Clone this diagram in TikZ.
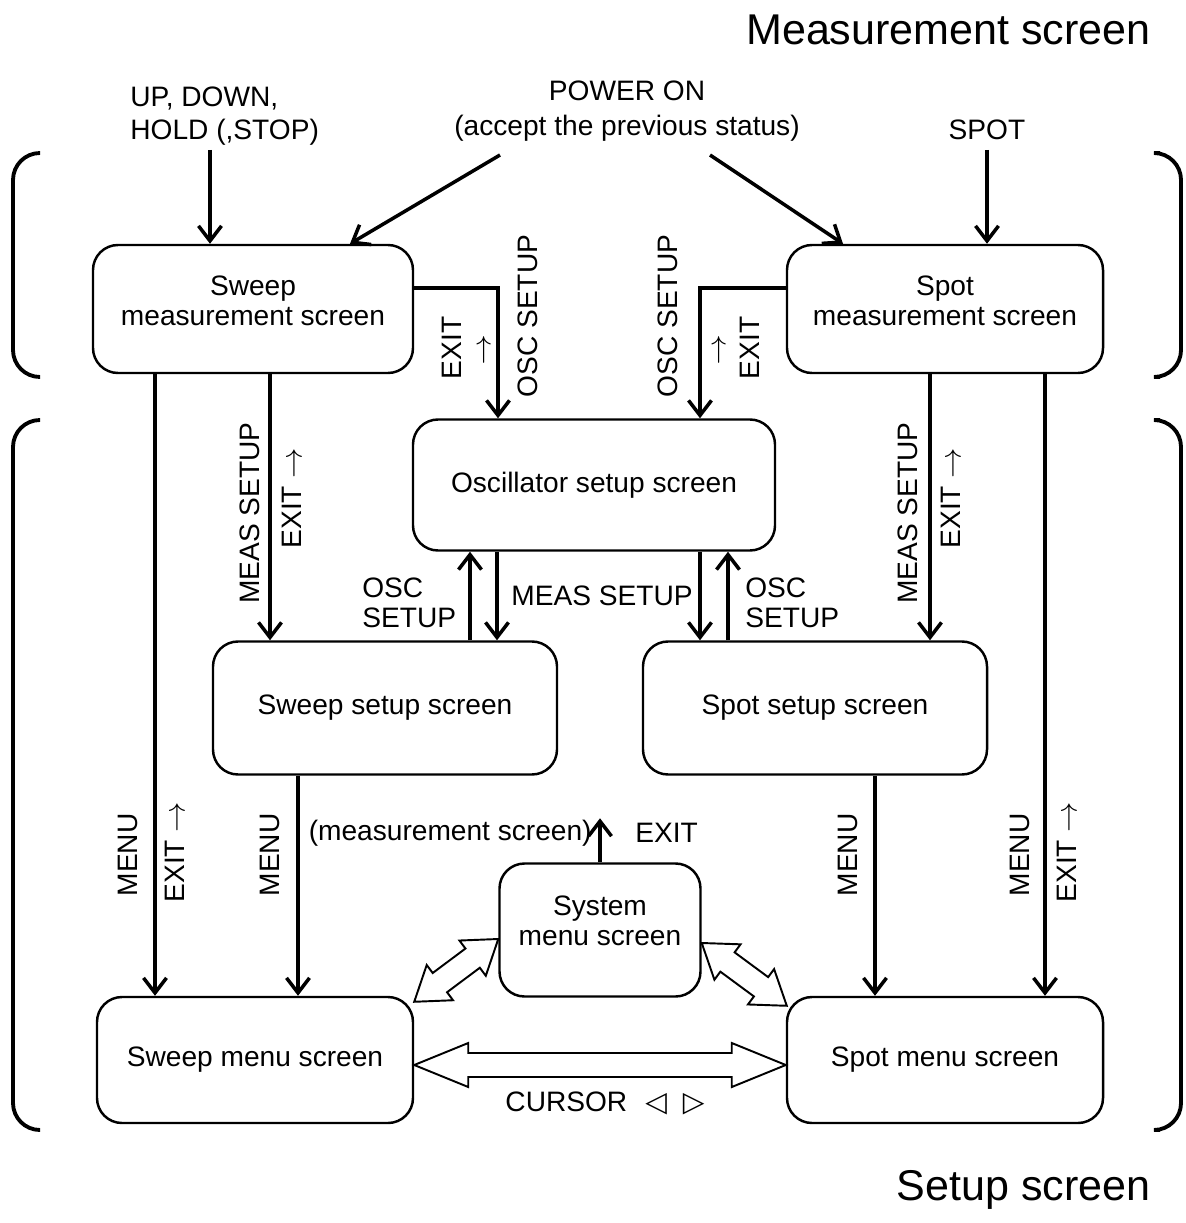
\documentclass[tikz,border=0pt]{standalone}
\usepackage{fontspec}
\setmainfont{Liberation Sans}
\newfontfamily\symbfont{DejaVu Sans}
\usetikzlibrary{arrows.meta,calc}

\tikzset{
  screen/.style={draw, line width=1.4pt, rounded corners=5mm, align=center, inner sep=0pt},
  flow/.style={line width=2pt, -{Straight Barb[length=3mm,width=4.6mm]}},
  hollow/.style={line width=1.1pt},
  bracket/.style={line width=2.2pt, rounded corners=5.4mm},
  vlbl/.style={rotate=90, inner sep=0pt},
  lbl/.style={inner sep=0pt},
  title/.style={anchor=east, inner sep=0pt, font=\fontsize{24.5}{28}\selectfont},
}

% hollow double arrow: #1 head length, #2 from, #3 to
\newcommand{\hollowarrow}[3]{%
  \draw[hollow] (#2) -- ($(#2)!#1!(#3)!4.4mm!90:(#3)$) -- ($(#2)!#1!(#3)!2.4mm!90:(#3)$)
    -- ($(#3)!#1!(#2)!2.4mm!-90:(#2)$) -- ($(#3)!#1!(#2)!4.4mm!-90:(#2)$) -- (#3)
    -- ($(#3)!#1!(#2)!4.4mm!90:(#2)$) -- ($(#3)!#1!(#2)!2.4mm!90:(#2)$)
    -- ($(#2)!#1!(#3)!2.4mm!-90:(#3)$) -- ($(#2)!#1!(#3)!4.4mm!-90:(#3)$) -- cycle;}

\begin{document}
\begin{tikzpicture}[x=0.2mm, y=-0.2mm, font=\fontsize{16}{17}\selectfont]
  \useasboundingbox (0,0) rectangle (1185,1223);

  % Titles
  \node[title] (meastitle) at (1151,30) {Measurement screen};
  \node[title] (setuptitle) at (1151,1190) {Setup screen};

  % Brackets
  \draw[bracket] (40,153) -- (13,153) -- (13,377) -- (40,377);
  \draw[bracket] (1160,153) -- (1181,153) -- (1181,377) -- (1160,377);
  \draw[bracket] (40,420) -- (13,420) -- (13,1130) -- (40,1130);
  \draw[bracket] (1160,420) -- (1181,420) -- (1181,1130) -- (1160,1130);

  % Screens
  \node[screen, minimum width=64mm, minimum height=25.6mm] (sweepmeas) at (253,309) {Sweep\\measurement screen\\[-2.6mm]};
  \node[screen, minimum width=63.2mm, minimum height=25.6mm] (spotmeas) at (945,309) {Spot\\measurement screen\\[-2.6mm]};
  \node[screen, minimum width=72.4mm, minimum height=26.2mm] (osc) at (594,485) {Oscillator setup screen};
  \node[screen, minimum width=68.8mm, minimum height=26.6mm] (sweepset) at (385,708) {Sweep setup screen};
  \node[screen, minimum width=68.8mm, minimum height=26.6mm] (spotset) at (815,708) {Spot setup screen};
  \node[screen, minimum width=40.2mm, minimum height=26.6mm] (sysmenu) at (600,930) {System\\menu screen\\[-2.4mm]};
  \node[screen, minimum width=63.2mm, minimum height=25.2mm] (sweepmenu) at (255,1060) {Sweep menu screen};
  \node[screen, minimum width=63.2mm, minimum height=25.2mm] (spotmenu) at (945,1060) {Spot menu screen};

  % Inputs at the top
  \node[lbl, anchor=west, align=left, font=\fontsize{16}{18.5}\selectfont] (keys) at (130,116) {UP, DOWN,\\HOLD (,STOP)};
  \node[lbl, align=center, font=\fontsize{16}{19.5}\selectfont] (poweron) at (627,111) {POWER ON\\(accept the previous status)};
  \node[lbl] (spotkey) at (987,130) {SPOT};
  \coordinate (keysin) at (210,150);
  \coordinate (powl) at (500,155);
  \coordinate (powr) at (710,155);
  \coordinate (spotin) at (987,150);
  \draw[flow] (keysin) -- (keysin |- sweepmeas.north);
  \draw[flow] (powl) -- (350,0 |- sweepmeas.north);
  \draw[flow] (powr) -- (843,0 |- spotmeas.north);
  \draw[flow] (spotin) -- (spotin |- spotmeas.north);

  % Measurement -> oscillator setup
  \draw[flow] (sweepmeas.east |- 0,288) -| (498,0 |- osc.north);
  \draw[flow] (spotmeas.west |- 0,288) -| (700,0 |- osc.north);
  \node[vlbl] (oscl) at (528,316) {OSC SETUP};
  \node[vlbl] (exitl) at (452,348) {EXIT};
  \node[lbl] (upl) at (484,350) {$\uparrow$};
  \node[vlbl] (oscr) at (668,316) {OSC SETUP};
  \node[vlbl] (exitr) at (750,348) {EXIT};
  \node[lbl] (upr) at (719,350) {$\uparrow$};

  % Measurement -> setup / menu
  \draw[flow] (270,0 |- sweepmeas.south) -- (270,0 |- sweepset.north);
  \draw[flow] (155,0 |- sweepmeas.south) -- (155,0 |- sweepmenu.north);
  \draw[flow] (930,0 |- spotmeas.south) -- (930,0 |- spotset.north);
  \draw[flow] (1045,0 |- spotmeas.south) -- (1045,0 |- spotmenu.north);
  \node[vlbl] (measl) at (250,513) {MEAS SETUP};
  \node[vlbl] (exitml) at (292,498) {EXIT $\rightarrow$};
  \node[vlbl] (measr) at (908,513) {MEAS SETUP};
  \node[vlbl] (exitmr) at (951,498) {EXIT $\rightarrow$};
  \node[vlbl] (menul) at (128,855) {MENU};
  \node[vlbl] (exitul) at (175,852) {EXIT $\rightarrow$};
  \node[vlbl] (menur) at (1020,855) {MENU};
  \node[vlbl] (exitur) at (1067,852) {EXIT $\rightarrow$};

  % Oscillator setup <-> setup screens
  \draw[flow] (470,0 |- sweepset.north) -- (470,0 |- osc.south);
  \draw[flow] (497,0 |- osc.south) -- (497,0 |- sweepset.north);
  \draw[flow] (700,0 |- osc.south) -- (700,0 |- spotset.north);
  \draw[flow] (728,0 |- spotset.north) -- (728,0 |- osc.south);
  \node[lbl, anchor=west, align=left] (oscsl) at (362,603) {OSC\\SETUP};
  \node[lbl] (meass) at (602,596) {MEAS SETUP};
  \node[lbl, anchor=west, align=left] (oscsr) at (745,603) {OSC\\SETUP};

  % Setup -> menu
  \draw[flow] (298,0 |- sweepset.south) -- (298,0 |- sweepmenu.north);
  \draw[flow] (875,0 |- spotset.south) -- (875,0 |- spotmenu.north);
  \node[vlbl] (menusl) at (270,855) {MENU};
  \node[vlbl] (menusr) at (848,855) {MENU};

  % System menu
  \coordinate (sysexit) at ($(sysmenu.north)+(0,-44)$);
  \draw[flow] (sysmenu.north) -- (sysexit);
  \node[lbl, anchor=east] (backl) at (592,833) {(measurement screen)};
  \node[lbl, anchor=west] (sysexitl) at (635,833) {EXIT};

  % Cursor moves between menus
  \coordinate (ml) at ($(sweepmenu.east)+(0,5)$);
  \coordinate (mr) at ($(spotmenu.west)+(0,5)$);
  \coordinate (sl) at ($(sweepmenu.north east)+(0,6)$);
  \coordinate (sysl) at ($(sysmenu.west)+(0,9)$);
  \coordinate (sysr) at ($(sysmenu.east)+(0,13)$);
  \coordinate (sr) at ($(spotmenu.north west)+(1,10)$);
  \hollowarrow{10.8mm}{ml}{mr}
  \hollowarrow{6.4mm}{sl}{sysl}
  \hollowarrow{6.4mm}{sysr}{sr}
  \node[lbl] (cursor) at (605,1103) {CURSOR\hspace{3.6mm}{\symbfont ◁}\hspace{3.2mm}{\symbfont ▷}};
\end{tikzpicture}
\end{document}
